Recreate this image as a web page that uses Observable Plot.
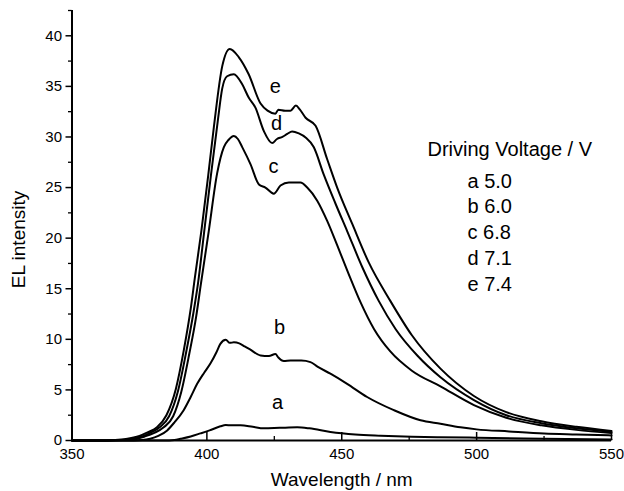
<!DOCTYPE html>
<html><head><meta charset="utf-8">
<script src="https://cdn.jsdelivr.net/npm/d3@7"></script>
<script src="https://cdn.jsdelivr.net/npm/@observablehq/plot@0.6"></script>
<style>body{margin:0;background:#fff} svg{display:block}</style>
</head><body><div id="chart"></div>
<script>
// Series a (5.0 V)
const wlA  = [350, 384, 388, 390.2, 394, 397.6, 401, 405, 407, 409, 412.5, 417, 421.1, 427, 433.5, 438, 445.8, 455, 464.4, 476, 486, 500, 525, 550];
const intA = [0, 0, 0.05, 0.17, 0.4, 0.7, 1.0, 1.4, 1.52, 1.5, 1.5, 1.35, 1.2, 1.25, 1.3, 1.2, 0.85, 0.6, 0.48, 0.38, 0.32, 0.28, 0.18, 0.1];
// Series b (6.0 V)
const wlB  = [350, 370, 376, 379, 382, 385.3, 388, 391.4, 394, 396.4, 399, 401.3, 403.5, 405, 407, 408.5, 410, 412, 414, 416, 419.9, 423, 425.4, 426.5, 428.5, 431, 435, 438.4, 441, 445.8, 452, 459.4, 469.3, 479.2, 486.6, 494, 500, 512, 525, 537, 550];
const intB = [0, 0, 0.05, 0.17, 0.45, 1.0, 1.8, 3.0, 4.3, 5.6, 6.7, 7.6, 8.7, 9.55, 9.95, 9.65, 9.7, 9.6, 9.3, 9.0, 8.4, 8.35, 8.55, 8.2, 7.85, 7.9, 7.9, 7.75, 7.3, 6.6, 5.6, 4.3, 3.0, 2.0, 1.65, 1.3, 1.1, 0.9, 0.7, 0.6, 0.5];
// Series c (6.8 V)
const wlC  = [350, 363, 369, 373, 377, 380.5, 384, 387.5, 390.5, 393.5, 396, 397.8, 400.7, 403.8, 406.3, 408, 410, 411.5, 413.1, 416.2, 419.3, 421.7, 424.8, 427.3, 430.4, 434.7, 437.2, 440.9, 444.6, 448.3, 452.5, 456.9, 462, 468, 476, 486.6, 499, 511, 524, 537, 550];
const intC = [0, 0, 0.04, 0.12, 0.4, 0.75, 1.3, 2.4, 4.8, 8.6, 12.2, 15.5, 20.7, 26.4, 29.0, 29.7, 30.1, 29.8, 29.0, 27.3, 25.3, 25.0, 24.4, 25.2, 25.5, 25.5, 25.0, 23.7, 21.7, 19.3, 16.5, 13.7, 11.0, 8.8, 6.9, 5.35, 3.5, 2.25, 1.5, 1.05, 0.75];
// Series d (7.1 V)
const wlD  = [350, 362, 368, 372, 376, 379, 382.5, 386, 389.3, 392.3, 395, 396.8, 398.9, 401.5, 404, 405.7, 407.5, 410, 413.1, 415.5, 418, 421.1, 424.2, 426, 428, 429.8, 431.6, 434.1, 436.6, 439.6, 443.3, 447.7, 452, 457.5, 463.7, 470, 478, 486.6, 499, 511, 524, 537, 550];
const intD = [0, 0, 0.04, 0.12, 0.4, 0.75, 1.3, 2.4, 4.9, 8.7, 12.6, 15.7, 20.4, 26.2, 31.5, 34.8, 36.0, 36.2, 35.2, 33.9, 32.9, 30.6, 29.4, 29.8, 30.0, 30.3, 30.55, 30.35, 29.95, 29.0, 26.3, 23.4, 20.7, 17.2, 13.8, 11.0, 8.4, 6.25, 4.0, 2.5, 1.7, 1.2, 0.85];
// Series e (7.4 V)
const wlE  = [350, 360, 366, 370, 375, 378, 381.5, 385, 388.5, 391.5, 394, 395.5, 398, 400.5, 402.6, 405.7, 408.5, 411.8, 415.5, 419.9, 422.5, 425.4, 426.5, 429, 431, 433, 434.5, 436.6, 440.3, 444.6, 448.3, 453.9, 460, 468, 476, 486.6, 499, 511, 524, 537, 550];
const intE = [0, 0, 0.05, 0.15, 0.45, 0.8, 1.3, 2.5, 5.1, 9.0, 13.0, 16.0, 20.8, 26.2, 31.0, 37.0, 38.7, 37.9, 36.2, 33.3, 32.6, 32.3, 32.7, 32.6, 32.6, 33.1, 32.7, 31.9, 31.1, 27.8, 25.0, 21.4, 17.6, 13.8, 10.4, 7.1, 4.4, 2.8, 1.9, 1.35, 0.95];

const curveKeys = ["a", "b", "c", "d", "e"];
const voltages  = ["5.0", "6.0", "6.8", "7.1", "7.4"];
const legendTitle = "Driving Voltage / V";
const xTitle = "Wavelength / nm";
const yTitle = "EL intensity";
const xTicks = [350, 400, 450, 500, 550];
const xMinor = [375, 425, 475, 525];
const yTicks = [0, 5, 10, 15, 20, 25, 30, 35, 40];
const yMinor = [2.5, 7.5, 12.5, 17.5, 22.5, 27.5, 32.5, 37.5, 42.5];
// curve label anchor points (data coordinates)
const labelWl = [426.2, 426.9, 424.7, 425.8, 425.4];
const labelI  = [3.75, 11.2, 27.1, 31.3, 35.0];

const seriesWl = [wlA, wlB, wlC, wlD, wlE];
const seriesI  = [intA, intB, intC, intD, intE];
const rows = curveKeys.flatMap((k, s) => seriesWl[s].map((w, i) => ({key: k, wl: w, v: seriesI[s][i]})));
const labels = curveKeys.map((k, i) => ({k, x: labelWl[i], y: labelI[i]}));

const W = 624, H = 491, mt = 10, mb = 51, ml = 71.5, mr = 13;
const innerH = H - mt - mb;
const font = "'Liberation Sans', Arial, Helvetica, sans-serif";

const chart = Plot.plot({
  width: W, height: H,
  marginTop: mt, marginBottom: mb, marginLeft: ml, marginRight: mr,
  style: {fontFamily: font, fontSize: "15px", color: "#000", background: "#fff"},
  x: {domain: [350, 550]},
  y: {domain: [0, 42.5]},
  marks: [
    Plot.axisY(yTicks, {tickSize: 6, tickPadding: 4, label: null, strokeWidth: 1.5, fontSize: 15}),
    Plot.axisY(yMinor, {tickSize: 3.5, text: null, label: null, strokeWidth: 1.3}),
    Plot.axisX(xTicks, {tickSize: 0, tickPadding: 8, label: null, fontSize: 15}),
    Plot.tickX(xTicks, {x: d => d, insetTop: innerH - 8, strokeWidth: 1.5}),
    Plot.tickX(xMinor, {x: d => d, insetTop: innerH - 4, strokeWidth: 1.3}),
    Plot.ruleY([0], {strokeWidth: 2}),
    Plot.ruleX([350], {strokeWidth: 2}),
    Plot.line(rows, {x: "wl", y: "v", z: "key", stroke: "#000", strokeWidth: 2, curve: "monotone-x"}),
    Plot.text(labels, {x: "x", y: "y", text: "k", fontSize: 20, lineAnchor: "middle"}),
    Plot.text([legendTitle], {frameAnchor: "top-left", dx: 427 - ml, dy: 141.5 - mt, textAnchor: "start", lineAnchor: "top", fontSize: 20}),
    Plot.text([curveKeys.map((k, i) => k + " " + voltages[i]).join("\n")], {frameAnchor: "top-left", dx: 467 - ml, dy: 169 - mt, textAnchor: "start", lineAnchor: "top", fontSize: 20, lineHeight: 25.7 / 20}),
    Plot.text([xTitle], {frameAnchor: "bottom", dy: 39, textAnchor: "middle", lineAnchor: "middle", fontSize: 19}),
    Plot.text([yTitle], {frameAnchor: "left", rotate: -90, dx: 18 - ml, dy: 14, textAnchor: "middle", lineAnchor: "middle", fontSize: 19})
  ]
});
document.getElementById("chart").appendChild(chart);
</script>
</body></html>
